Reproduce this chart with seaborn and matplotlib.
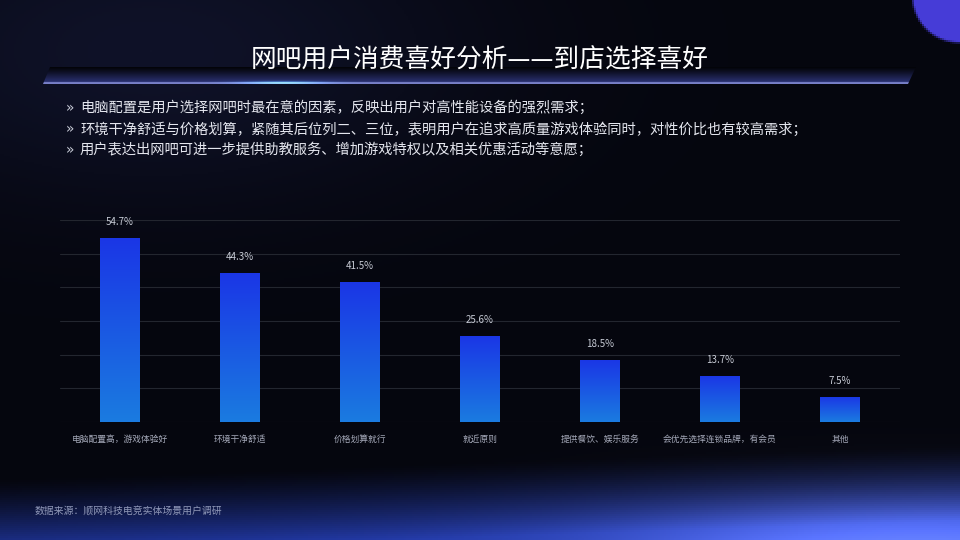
import numpy as np
import pandas as pd
import matplotlib
matplotlib.use("Agg")
import matplotlib.pyplot as plt
from matplotlib.patches import Polygon
from matplotlib.colors import LinearSegmentedColormap
import seaborn as sns

# 数据
categories = ["电脑配置高，游戏体验好", "环境干净舒适", "价格划算就行", "就近原则",
              "提供餐饮、娱乐服务", "会优先选择连锁品牌，有会员", "其他"]
values = [54.7, 44.3, 41.5, 25.6, 18.5, 13.7, 7.5]
title = "网吧用户消费喜好分析——到店选择喜好"
bullets = ["电脑配置是用户选择网吧时最在意的因素，反映出用户对高性能设备的强烈需求；",
           "环境干净舒适与价格划算，紧随其后位列二、三位，表明用户在追求高质量游戏体验同时，对性价比也有较高需求；",
           "用户表达出网吧可进一步提供助教服务、增加游戏特权以及相关优惠活动等意愿；"]
source = "数据来源：顺网科技电竞实体场景用户调研"

sns.set_theme(style="dark")
plt.rcParams['font.family'] = ['Noto Sans CJK SC', 'DejaVu Sans']

fig = plt.figure(figsize=(9.6, 5.4), dpi=100)

# 背景
bg = fig.add_axes([0, 0, 1, 1])
bg.set_xlim(0, 960)
bg.set_ylim(540, 0)
bg.axis("off")
H, W = 270, 480
yy, xx = np.mgrid[0:H, 0:W]
yy = yy * 2.0
xx = xx * 2.0
base = np.array([5, 6, 14]) / 255.0
img = np.ones((H, W, 3)) * base
# 左上稍亮
tl = np.exp(-((xx - 150) ** 2 / 320 ** 2 + (yy - 50) ** 2 / 150 ** 2))
img += tl[..., None] * np.array([10, 12, 26]) / 255.0
# 底部弧形光晕
edge = 478 - 0.035 * xx
glow = np.clip((yy - edge) / 75, 0, 1) ** 1.3
img += glow[..., None] * np.array([28, 50, 150]) / 255.0
spot = np.exp(-((xx - 920) ** 2 / 300 ** 2 + (yy - 570) ** 2 / 65 ** 2))
img += spot[..., None] * np.array([85, 90, 135]) / 255.0
# 右上圆
d = np.sqrt((xx - 958) ** 2 + (yy + 5) ** 2)
circ = np.clip((48 - d) / 3, 0, 1)
img = img * (1 - circ[..., None]) + circ[..., None] * np.array([70, 60, 215]) / 255.0
img = np.clip(img, 0, 1)
bg.imshow(img, extent=[0, 960, 540, 0], aspect="auto", zorder=0)

# 标题条
band = Polygon([[50, 67], [916, 67], [908, 84], [43, 84]], closed=True,
               facecolor="none", edgecolor="none")
bg.add_patch(band)
gy, gx = np.mgrid[0:34, 0:300]
vert = np.linspace(0.1, 1, 34)[:, None] ** 1.2
bimg = np.ones((34, 300, 3)) * np.array([48, 56, 130]) / 255.0
bimg = bimg * vert[..., None]
bimg[-4:] = np.array([120, 128, 200]) / 255.0
cy = np.exp(-((gx - 82) ** 2) / 14 ** 2) * np.exp(-((gy - 31) ** 2) / 3 ** 2)
bimg += cy[..., None] * np.array([40, 110, 140]) / 255.0
bimg = np.clip(bimg, 0, 1)
im = bg.imshow(bimg, extent=[43, 916, 84, 67], aspect="auto", zorder=1)
im.set_clip_path(band)
bg.text(480, 61, title, color="white", fontsize=18.5, ha="center", va="center", zorder=2)

for i, b in enumerate(bullets):
    y = 108 + i * 21
    bg.text(66, y, "»", color="#c8ccd8", fontsize=10, ha="left", va="center",
            family=["DejaVu Sans"])
    bg.text(80, y, b, color="#e4e6ee", fontsize=10.3, ha="left", va="center")

bg.text(35, 511, source, color="#9098b8", fontsize=7.1, ha="left", va="center")

# 柱状图
ax = fig.add_axes([60 / 960, 1 - 422 / 540, 840 / 960, 202 / 540])
ax.patch.set_alpha(0)
df = pd.DataFrame({"category": categories, "value": values})
sns.barplot(data=df, x="category", y="value", ax=ax, width=0.333,
            color="#1a55e0", saturation=1)
ax.set_ylim(0, 60)
ax.set_xlim(-0.5, len(categories) - 0.5)
ax.set_yticks(np.arange(0, 61, 10))
ax.set_yticklabels([])
ax.tick_params(axis="y", length=0)
ax.grid(axis="y", color="#23262f", linewidth=0.8)
ax.grid(axis="x", visible=False)
ax.set_axisbelow(True)
for s in ax.spines.values():
    s.set_visible(False)
ax.set_xlabel("")
ax.set_ylabel("")
ax.tick_params(axis="x", length=0, pad=9, labelsize=6.3, labelcolor="#a4a8b8")

cmap = LinearSegmentedColormap.from_list("bar", ["#1b7be0", "#1a36e6"])
grad = np.linspace(0, 1, 100)[:, None]
for p, v in zip(ax.patches, values):
    x0 = p.get_x()
    w = p.get_width()
    h = p.get_height()
    p.set_facecolor("none")
    p.set_edgecolor("none")
    gim = ax.imshow(grad, cmap=cmap, extent=[x0, x0 + w, 0, h], origin="lower",
                    aspect="auto", zorder=3)
    gim.set_clip_path(p)
    ax.text(x0 + w / 2, h + 3.3, f"{v}%", color="#c8ccd6", fontsize=7,
            ha="center", va="bottom", zorder=4)
ax.set_xlim(-0.5, len(categories) - 0.5)
ax.set_ylim(0, 60)

fig.savefig("out.png", dpi=100)
